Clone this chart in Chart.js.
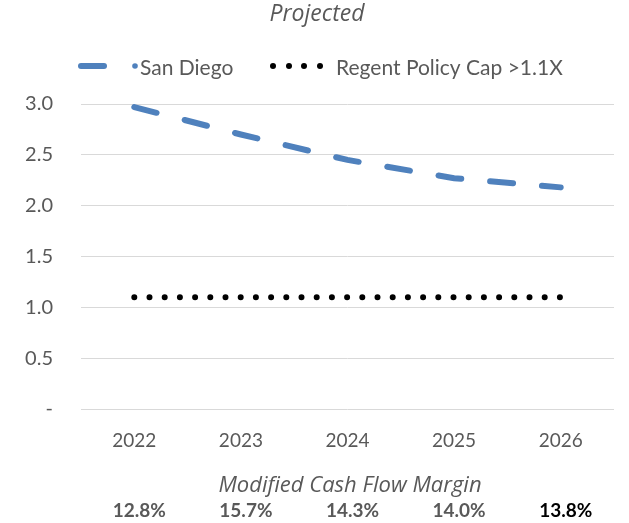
<!DOCTYPE html>
<html>
<head>
<meta charset="utf-8">
<script src="https://cdn.jsdelivr.net/npm/chart.js@4.4.1/dist/chart.umd.min.js"></script>
<style>
  html, body { margin: 0; padding: 0; background: #fff; }
  #wrap { width: 629px; height: 523px; }
</style>
</head>
<body>
<div id="wrap"><canvas id="dscr-chart"></canvas></div>
<script>
var years = ["2022", "2023", "2024", "2025", "2026"];
var sanDiego = [2.97, 2.70, 2.45, 2.27, 2.18];
var policyCap = [1.1, 1.1, 1.1, 1.1, 1.1];
var yTicks = [0, 0.5, 1.0, 1.5, 2.0, 2.5, 3.0];
var marginLabels = ["12.8%", "15.7%", "14.3%", "14.0%", "13.8%"];

var BLUE = "#4f81bd";
var GRAY = "#595959";
var FONT = "Lato, 'Open Sans', sans-serif";
var ITALIC_FONT = "'Open Sans', Lato, sans-serif";

// title, legend and the margin row under the axis
var extras = {
  id: "extras",
  afterDraw: function (chart) {
    var ctx = chart.ctx;
    var x = chart.scales.x;
    ctx.save();

    ctx.fillStyle = GRAY;
    ctx.textAlign = "center";
    ctx.textBaseline = "alphabetic";
    ctx.font = "italic 23px " + ITALIC_FONT;
    ctx.fillText("Projected", 317, 21);

    // legend
    ctx.lineCap = "round";
    ctx.strokeStyle = BLUE;
    ctx.lineWidth = 6;
    ctx.beginPath();
    ctx.moveTo(81, 66);
    ctx.lineTo(104, 66);
    ctx.stroke();
    ctx.fillStyle = BLUE;
    ctx.beginPath();
    ctx.arc(135, 66, 2.8, 0, Math.PI * 2);
    ctx.fill();

    ctx.fillStyle = "#000";
    [273, 289, 304, 320].forEach(function (px) {
      ctx.beginPath();
      ctx.arc(px, 66, 3, 0, Math.PI * 2);
      ctx.fill();
    });

    ctx.fillStyle = GRAY;
    ctx.textAlign = "left";
    ctx.font = "21px " + FONT;
    ctx.fillText(chart.data.datasets[0].label, 140, 75);
    ctx.fillText(chart.data.datasets[1].label, 336, 75);

    // margin row
    ctx.textAlign = "center";
    ctx.font = "italic 22px " + ITALIC_FONT;
    ctx.fillText("Modified Cash Flow Margin", 350, 492);

    ctx.font = "bold 19px " + FONT;
    marginLabels.forEach(function (lbl, i) {
      ctx.fillStyle = i === marginLabels.length - 1 ? "#000" : GRAY;
      ctx.fillText(lbl, x.getPixelForValue(i) + 5, 517);
    });
    ctx.restore();
  }
};

var config = {
  type: "line",
  data: {
    labels: years,
    datasets: [
      {
        label: "San Diego",
        data: sanDiego,
        fill: false,
        borderColor: BLUE,
        borderWidth: 6,
        borderDash: [23, 29],
        borderCapStyle: "round",
        pointRadius: 0,
        tension: 0,
      },
      {
        label: "Regent Policy Cap >1.1X",
        data: policyCap,
        fill: false,
        borderColor: "#000000",
        borderWidth: 6,
        borderDash: [0, 15.2],
        borderCapStyle: "round",
        pointRadius: 0,
        tension: 0,
      },
    ],
  },
  options: {
    responsive: true,
    maintainAspectRatio: false,
    animation: false,
    layout: { padding: { top: 104, right: 15, left: 0, bottom: 0 } },
    plugins: {
      legend: { display: false },
      title: { display: false },
      tooltip: { enabled: false },
    },
    scales: {
      x: {
        offset: true,
        grid: { display: false, drawTicks: false },
        border: { display: false },
        ticks: {
          color: GRAY,
          font: { family: FONT, size: 19 },
          padding: 20,
        },
        afterFit: function (s) {
          s.height = 114;
        },
      },
      y: {
        min: 0,
        max: 3,
        grid: { color: "#d9d9d9", lineWidth: 1, drawTicks: false },
        border: { display: false },
        afterBuildTicks: function (s) {
          s.ticks = yTicks.map(function (v) {
            return { value: v };
          });
        },
        ticks: {
          color: GRAY,
          font: { family: FONT, size: 20 },
          padding: 28,
          callback: function (v) {
            return v === 0 ? "-" : v.toFixed(1);
          },
        },
        afterFit: function (s) {
          s.width = 81;
        },
      },
    },
  },
  plugins: [extras],
};

var ctxOne = document.getElementById("dscr-chart").getContext("2d");
new Chart(ctxOne, config);
</script>
</body>
</html>
